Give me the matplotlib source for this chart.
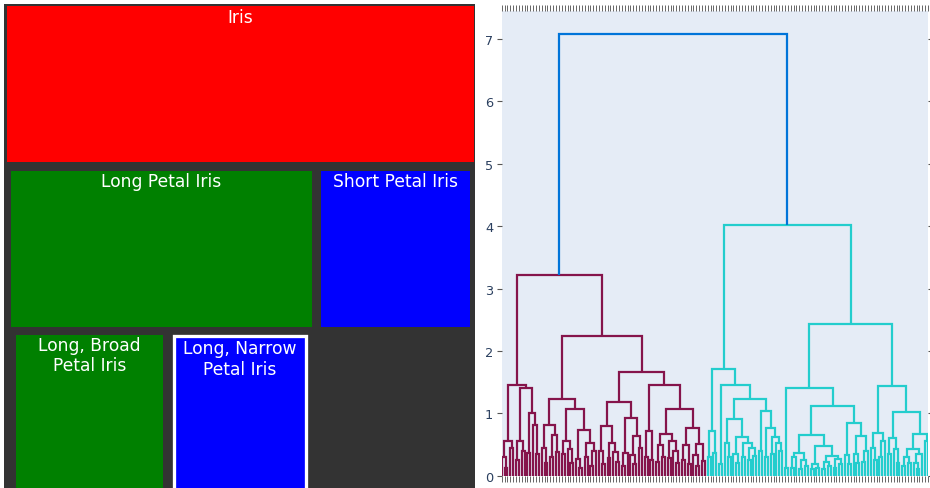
import matplotlib
matplotlib.use("Agg")
import matplotlib.pyplot as plt
from matplotlib.patches import Rectangle

plt.rcParams['font.family'] = ['DejaVu Sans']

# ---------------- icicle (left panel) data ----------------
tm_labels = ["Iris", "Long Petal Iris", "Short Petal Iris",
             "Long, Broad\nPetal Iris", "Long, Narrow\nPetal Iris"]
tm_parents = ["", "Iris", "Iris", "Long Petal Iris", "Long Petal Iris"]
tm_values = [150, 100, 50, 52, 48]
tm_colors = ["#ff0000", "#008000", "#0000ff", "#008000", "#0000ff"]
tm_line_colors = [None, None, None, None, "#ffffff"]

# ---------------- dendrogram (right panel) data ----------------
# nodes: (merge height, left, right); L = single leaf
L = 0
root_height = 7.085

purple_tree = (3.21,
    (1.46,
        (0.55, (0.30, L, (0.12, L, L)), (0.45, L, L)),
        (1.40,
            (0.55, (0.25, L, L), (0.40, L, L)),
            (1.01, (0.37, L, L), (0.82, L, (0.35, L, L))))),
    (2.24,
        (1.23,
            (0.82, (0.45, L, (0.20, L, L)), (0.66, (0.30, L, L), (0.38, L, L))),
            (1.07,
                (0.55, (0.35, L, L), (0.42, L, (0.20, L, L))),
                (0.74, (0.26, L, (0.12, L, L)),
                       (0.53, (0.30, L, L), (0.40, (0.15, L, L), L))))),
        (1.67,
            (1.18,
                (0.79, (0.40, L, (0.18, L, L)),
                       (0.53, (0.28, L, L), (0.38, L, (0.22, L, L)))),
                (0.93, (0.37, (0.15, L, L), L),
                       (0.63, (0.33, L, (0.18, L, L)), (0.45, L, L)))),
            (1.45,
                (0.71, (0.30, L, L), (0.25, L, L)),
                (1.07,
                    (0.67, (0.50, (0.22, L, L), (0.30, L, L)),
                           (0.55, (0.28, L, L), (0.40, L, (0.20, L, L)))),
                    (0.77, (0.50, (0.25, L, L), (0.18, L, L)),
                           (0.51, (0.33, L, (0.15, L, L)), (0.24, L, L))))))))

cyan_tree = (4.02,
    (1.71,
        (0.72, (0.30, L, L), (0.37, L, L)),
        (1.46,
            (0.18, L, L),
            (1.23,
                (0.91,
                    (0.52, L, (0.30, L, L)),
                    (0.62, (0.35, L, (0.20, L, L)),
                           (0.53, (0.30, L, L),
                                  (0.45, (0.25, L, L), (0.32, L, L))))),
                (1.03,
                    (0.40, L, L),
                    (0.77, (0.30, L, L),
                           (0.62, (0.35, L, L), (0.53, L, (0.40, L, L)))))))),
    (2.43,
        (1.41,
            (0.13, L, L),
            (1.11,
                (0.66,
                    (0.37, (0.30, (0.12, L, L), L), (0.25, (0.10, L, L), (0.15, L, L))),
                    (0.47, (0.18, (0.10, L, L), (0.12, L, L)),
                           (0.31, (0.22, (0.10, L, L), (0.15, L, L)),
                                  (0.26, (0.12, L, L), (0.18, L, L))))),
                (0.85,
                    (0.33, L, (0.18, L, L)),
                    (0.63, (0.35, L, (0.20, L, L)), (0.40, (0.22, L, L), L))))),
        (1.43,
            (0.68, (0.45, L, (0.25, L, L)), (0.55, (0.30, L, L), L)),
            (1.02,
                (0.60, (0.35, L, L), (0.42, L, (0.20, L, L))),
                (0.67,
                    (0.42, (0.30, (0.15, L, L), (0.20, L, L)),
                           (0.35, (0.20, L, (0.10, L, L)), L)),
                    (0.55, L, L))))))

y_ticks = [0, 1, 2, 3, 4, 5, 6, 7]

# colours (styles)
C_ROOT = (0/255, 116/255, 217/255)
C_PURPLE = (133/255, 20/255, 75/255)
C_CYAN = (35/255, 205/255, 205/255)

W, H = 930, 489
fig = plt.figure(figsize=(W/100, H/100), dpi=100)
fig.patch.set_facecolor("white")

# ---------------- left panel: icicle ----------------
axl = fig.add_axes([0, 0, 1, 1])
axl.set_xlim(0, W)
axl.set_ylim(H, 0)
axl.axis("off")
axl.add_patch(Rectangle((4, 5), 470.5, H, facecolor="#333333", edgecolor="none"))

PAD, GAP = 4.5, 9.4
ROW0, ROW_STEP, ROW_H = 7.3, 164.2, 156.0
children = {lab: [i for i, p in enumerate(tm_parents) if p == lab] for lab in tm_labels}
boxes = {}

def place(i, x0, x1, depth):
    boxes[i] = (x0, x1, depth)
    kids = children[tm_labels[i]]
    if kids:
        inner = (x1 - x0) - 2 * PAD
        tot = sum(tm_values[k] for k in kids)
        cx = x0 + PAD
        for j, k in enumerate(kids):
            w = inner * tm_values[k] / tot
            a = cx + (GAP / 2 if j > 0 else 0)
            b = cx + w - (GAP / 2 if j < len(kids) - 1 else 0)
            place(k, a, b, depth + 1)
            cx += w

place(0, 6.7, 474.0, 0)
for i, (x0, x1, d) in boxes.items():
    top = ROW0 + d * ROW_STEP
    h = ROW_H + (20 if d == 2 else 0)
    inset = 0.0
    if tm_line_colors[i]:
        lw_px = 3.3
        axl.add_patch(Rectangle((x0 + lw_px / 2, top + lw_px / 2), x1 - x0 - lw_px, h,
                                facecolor=tm_colors[i], edgecolor=tm_line_colors[i],
                                linewidth=lw_px * 0.72))
        inset = lw_px
    else:
        axl.add_patch(Rectangle((x0, top), x1 - x0, h, facecolor=tm_colors[i],
                                edgecolor="none"))
    axl.text((x0 + x1) / 2, top + inset + 1.5, tm_labels[i], ha="center", va="top",
             color="white", fontsize=12.3, linespacing=1.15)

# ---------------- right panel: dendrogram ----------------
x0p, x1p, y0p, y1p = 501.7, 928.0, 11.7, 476.7
axr = fig.add_axes([x0p / W, (H - y1p) / H, (x1p - x0p) / W, (y1p - y0p) / H])
axr.set_facecolor("#E5ECF6")

segments = []
counter = [0]

def walk(node, color):
    if isinstance(node, int):
        x = 5 + 10 * counter[0]
        counter[0] += 1
        return x, 0.0
    h, a, b = node
    xa, ha = walk(a, color)
    xb, hb = walk(b, color)
    segments.append(([xa, xa, xb, xb], [ha, h, h, hb], color))
    return (xa + xb) / 2, h

xa, ha = walk(purple_tree, C_PURPLE)
xb, hb = walk(cyan_tree, C_CYAN)
segments.append(([xa, xa, xb, xb], [ha, root_height, root_height, hb], C_ROOT))

for xs, ys, c in segments:
    axr.plot(xs, ys, color=c, lw=1.6, solid_joinstyle="miter", solid_capstyle="butt")

n_leaves = counter[0]
axr.set_xlim(5, 5 + 10 * (n_leaves - 1))
axr.set_ylim(0, root_height * 1.052)
axr.set_xticks([5 + 10 * i for i in range(n_leaves)])
axr.set_xticklabels([])
axr.set_yticks(y_ticks)
axr.set_yticklabels([str(t) for t in y_ticks])
axr.tick_params(axis="x", which="both", top=True, bottom=True, length=4.3, width=0.7,
                color="#666666", direction="out")
axr.tick_params(axis="y", left=True, right=True, length=3.6, width=0.8, color="#555555",
                labelcolor="#2a3f5f", labelsize=9.3, pad=2.5, direction="out")
for s in axr.spines.values():
    s.set_visible(False)

fig.savefig("out.png", dpi=100, facecolor="white")
